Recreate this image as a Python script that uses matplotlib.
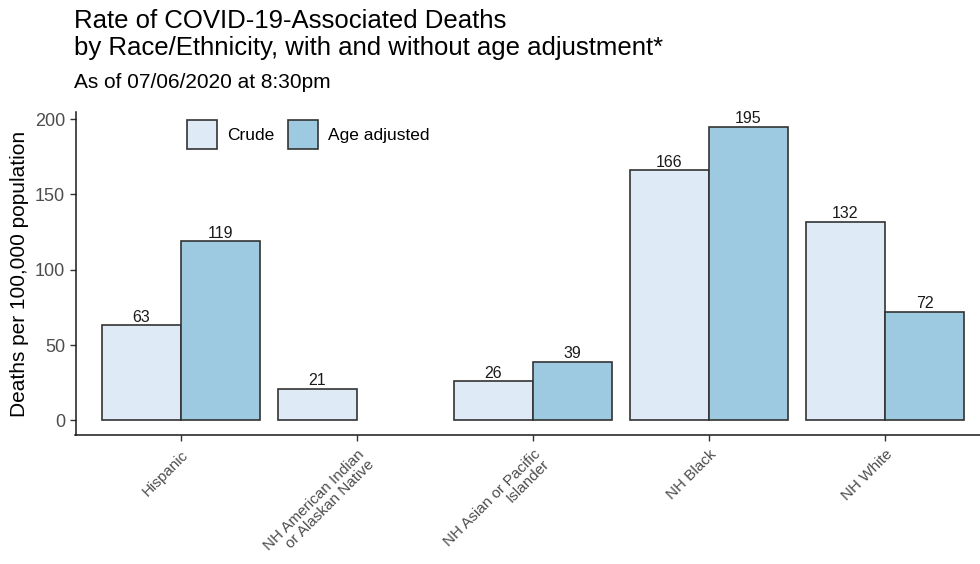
import numpy as np
import matplotlib.pyplot as plt

plt.rcParams['font.family'] = ['Liberation Sans', 'DejaVu Sans']

# Data
groups = ['Hispanic', 'NH American Indian\nor Alaskan Native',
          'NH Asian or Pacific\nIslander', 'NH Black', 'NH White']
crude = [63, 21, 26, 166, 132]
age_adjusted = [119, None, 39, 195, 72]

crude_color = '#DEEBF7'
adjusted_color = '#9ECAE1'

fig = plt.figure(figsize=(9.8, 5.64), dpi=100)
W, H = 980, 564
# axes box in pixels: left 75.5, right 990.5 (clipped), top 112, bottom 435
ax = fig.add_axes([75.5 / W, 1 - 435 / H, 915 / W, (435 - 112) / H])

x = np.arange(len(groups))
width = 0.45

for i in range(len(groups)):
    c = crude[i]
    a = age_adjusted[i]
    # ggplot dodge keeps a lone bar in the left slot
    pos_c = x[i] - width / 2
    ax.bar(pos_c, c, width, color=crude_color, edgecolor='#333333', linewidth=1.2,
           label='Crude' if i == 0 else None)
    ax.text(pos_c, c + 0.3, str(c), ha='center', va='bottom', fontsize=11.5, color='#1a1a1a')
    if a is not None:
        pos_a = x[i] + width / 2
        ax.bar(pos_a, a, width, color=adjusted_color, edgecolor='#333333', linewidth=1.2,
               label='Age adjusted' if i == 0 else None)
        ax.text(pos_a, a + 0.3, str(a), ha='center', va='bottom', fontsize=11.5, color='#1a1a1a')

ax.set_xlim(-0.6, len(groups) - 0.4)
ax.set_ylim(-9.75, 204.75)
ax.set_yticks([0, 50, 100, 150, 200])
ax.set_xticks(x)
ax.set_xticklabels(groups, rotation=45, ha='right', rotation_mode='anchor', linespacing=0.95)

for side in ['top', 'right']:
    ax.spines[side].set_visible(False)
for side in ['left', 'bottom']:
    ax.spines[side].set_color('#1a1a1a')
    ax.spines[side].set_linewidth(1.1)

ax.tick_params(axis='both', colors='#333333', labelcolor='#4d4d4d', labelsize=11,
               length=4, width=1)
ax.tick_params(axis='y', labelsize=13)
ax.tick_params(axis='x', pad=5)
ax.set_ylabel('Deaths per 100,000 population', fontsize=15, color='black', labelpad=4)

ax.legend(loc='upper left', bbox_to_anchor=(187 / W, 1 - 120 / H),
          bbox_transform=fig.transFigure, ncol=2, frameon=False, fontsize=12.5,
          handlelength=1.75, handleheight=2.2, handletextpad=0.55, columnspacing=0.8,
          borderpad=0, borderaxespad=0)

fig.text(74 / W, 1 - 9 / H, 'Rate of COVID-19-Associated Deaths\nby Race/Ethnicity, with and without age adjustment*',
         ha='left', va='top', fontsize=18.5, linespacing=1.15)
fig.text(74 / W, 1 - 83 / H, 'As of 07/06/2020 at 8:30pm', ha='left', va='center', fontsize=15)

fig.savefig('out.png', dpi=100)
